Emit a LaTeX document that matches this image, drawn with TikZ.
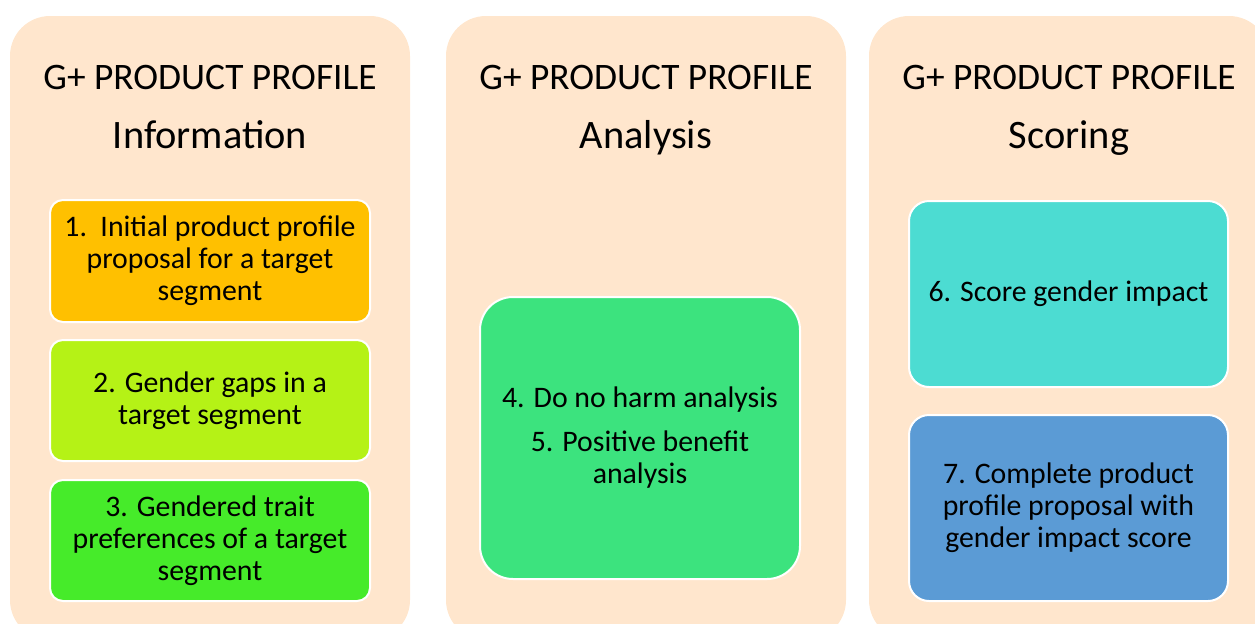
\documentclass[tikz,border=0pt]{standalone}
\usepackage{fontspec}
\setmainfont{Carlito}
\usetikzlibrary{positioning}
\definecolor{panelpeach}{RGB}{255,230,205}
\definecolor{infogold}{RGB}{255,192,0}
\definecolor{gaplime}{RGB}{181,242,22}
\definecolor{traitgreen}{RGB}{70,235,42}
\definecolor{analysisgreen}{RGB}{60,227,126}
\definecolor{scoreteal}{RGB}{76,220,210}
\definecolor{finalblue}{RGB}{91,155,213}

\begin{document}
\begin{tikzpicture}[x=0.5pt, y=-0.5pt,
  panel/.style={rectangle, rounded corners=20pt, fill=panelpeach, minimum width=200pt, minimum height=312pt},
  heading/.style={anchor=base, font=\fontsize{18.7}{22}\selectfont},
  stage/.style={anchor=base, font=\fontsize{20.2}{24}\selectfont},
  stepbox/.style={rectangle, rounded corners=6.5pt, draw=white, line width=1pt, align=center, minimum width=160pt, minimum height=60.5pt, inner sep=0pt, font=\fontsize{14.9}{16}\selectfont}
]
\useasboundingbox (0,0) rectangle (1255,623);
\clip (0,0) rectangle (1255,623);

% the three columns
\node[panel] (p1) at (210,328) {};
\node[panel] (p2) at (646,328) {};
\node[panel] (p3) at (1069,328) {};

\node[heading] (h1) at (210,89) {G+ PRODUCT PROFILE};
\node[stage] (s1) at (210,148) {Information};
\node[heading] (h2) at (646,89) {G+ PRODUCT PROFILE};
\node[stage] (s2) at (646,148) {Analysis};
\node[heading] (h3) at (1069,89) {G+ PRODUCT PROFILE};
\node[stage] (s3) at (1069,148) {Scoring};

% information steps
\node[stepbox, fill=infogold, minimum height=61pt] (b1) at (210,261) {1.\ \ Initial product profile\\proposal for a target\\segment};
\node[stepbox, fill=gaplime, below=8pt of b1] (b2) {2. Gender gaps in a\\target segment};
\node[stepbox, fill=traitgreen, below=8.5pt of b2] (b3) {3. Gendered trait\\preferences of a target\\segment};

% analysis step
\node[stepbox, fill=analysisgreen, rounded corners=16.5pt, minimum height=141pt] (b4) at (640,438) {4. Do no harm analysis\\[6pt]5. Positive benefit\\analysis};

% scoring steps
\node[stepbox, fill=scoreteal, rounded corners=10pt, minimum width=159.5pt, minimum height=93pt] (b6) at (1068.5,294) {6. Score gender impact};
\node[stepbox, fill=finalblue, rounded corners=10pt, minimum width=159.5pt, minimum height=93pt] (b7) at (1068.5,508) {7. Complete product\\profile proposal with\\gender impact score};
\end{tikzpicture}
\end{document}
